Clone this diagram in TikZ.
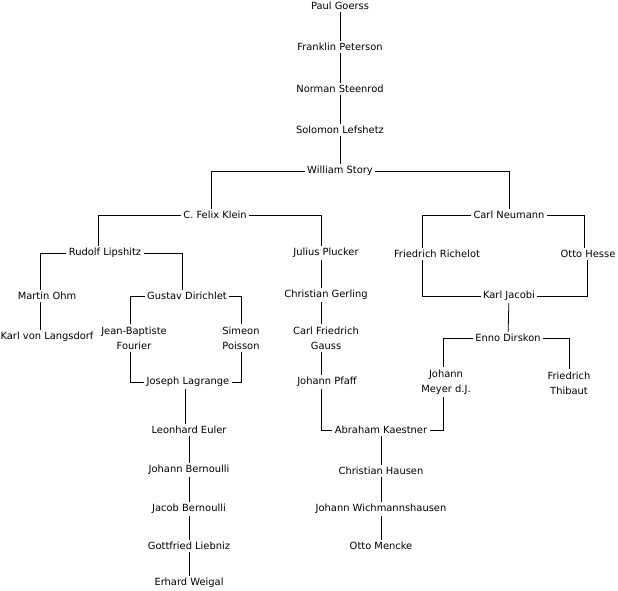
\documentclass[tikz,border=0pt]{standalone}
\usepackage{fontspec}
\setmainfont{DejaVu Sans}
\begin{document}
\begin{tikzpicture}[x=1pt,y=-1pt,
  p/.style={inner sep=2pt,align=center,font=\fontsize{9.9}{15}\selectfont,fill=white},
  every path/.style={line width=0.8pt}]
\useasboundingbox[fill=white] (0,0) rectangle (618,590);
\node[p] (goerss) at (340,6) {Paul Goerss};
\node[p] (peterson) at (340,47) {Franklin Peterson};
\node[p] (steenrod) at (340,89) {Norman Steenrod};
\node[p] (lefshetz) at (340,130) {Solomon Lefshetz};
\node[p] (story) at (340,171) {William Story};
\node[p] (klein) at (215,215) {C. Felix Klein};
\node[p] (neumann) at (509,215) {Carl Neumann};
\node[p] (lipshitz) at (105,253) {Rudolf Lipshitz};
\node[p] (plucker) at (326,253) {Julius Plucker};
\node[p] (ohm) at (47,296) {Martin Ohm};
\node[p] (langsdorf) at (47,337) {Karl von Langsdorf};
\node[p] (dirichlet) at (187,296) {Gustav Dirichlet};
\node[p] (fourier) at (134,338) {Jean-Baptiste\\Fourier};
\node[p] (poisson) at (241,338) {Simeon\\Poisson};
\node[p] (lagrange) at (188,382) {Joseph Lagrange};
\node[p] (euler) at (189,430) {Leonhard Euler};
\node[p] (jbern) at (189,470) {Johann Bernoulli};
\node[p] (jacob) at (189,509) {Jacob Bernoulli};
\node[p] (liebniz) at (189,546) {Gottfried Liebniz};
\node[p] (weigal) at (189,583) {Erhard Weigal};
\node[p] (gerling) at (326,295) {Christian Gerling};
\node[p] (gauss) at (326,338) {Carl Friedrich\\Gauss};
\node[p] (pfaff) at (327,382) {Johann Pfaff};
\node[p] (kaestner) at (381,430) {Abraham Kaestner};
\node[p] (hausen) at (381,471) {Christian Hausen};
\node[p] (wich) at (381,509) {Johann Wichmannshausen};
\node[p] (mencke) at (381,546) {Otto Mencke};
\node[p] (richelot) at (437,254) {Friedrich Richelot};
\node[p] (hesse) at (588,254) {Otto Hesse};
\node[p] (jacobi) at (509,296) {Karl Jacobi};
\node[p] (dirskon) at (508,338) {Enno Dirskon};
\node[p] (meyer) at (446,382) {Johann\\Meyer d.J.};
\node[p] (thibaut) at (569,383) {Friedrich\\Thibaut};
\draw (goerss) -- (peterson) -- (steenrod) -- (lefshetz) -- (story);
\draw (story.west) -| ([xshift=-4pt]klein.north);
\draw (story.east) -| (neumann.north);
\draw (klein.west) -| ([xshift=-7pt]lipshitz.north);
\draw (klein.east) -| ([xshift=-5pt]plucker.north);
\draw (lipshitz.west) -| ([xshift=-7pt]ohm.north);
\draw ([xshift=-7pt]ohm.south) -- ([xshift=-7pt]langsdorf.north);
\draw (lipshitz.east) -| ([xshift=-5pt]dirichlet.north);
\draw (dirichlet.west) -| ([xshift=-4pt]fourier.north);
\draw (dirichlet.east) -| (poisson.north);
\draw ([xshift=-4pt]fourier.south) |- (lagrange.west);
\draw (poisson.south) |- (lagrange.east);
\draw ([xshift=-3pt]lagrange.south) -- ([xshift=-4pt]euler.north);
\draw (euler) -- (jbern) -- (jacob) -- (liebniz) -- (weigal);
\draw ([xshift=-5pt]plucker.south) -- ([xshift=-5pt]gerling.north);
\draw ([xshift=-5pt]gerling.south) -- ([xshift=-5pt]gauss.north);
\draw ([xshift=-5pt]gauss.south) -- ([xshift=-6pt]pfaff.north);
\draw ([xshift=-6pt]pfaff.south) |- (kaestner.west);
\draw (kaestner) -- (hausen) -- (wich) -- (mencke);
\draw (neumann.west) -| ([xshift=-15pt]richelot.north);
\draw (neumann.east) -| ([xshift=-4pt]hesse.north);
\draw ([xshift=-15pt]richelot.south) |- (jacobi.west);
\draw ([xshift=-1pt]hesse.south) |- (jacobi.east);
\draw (jacobi) -- (dirskon);
\draw (dirskon.west) -| ([xshift=-3pt]meyer.north);
\draw (dirskon.east) -| (thibaut.north);
\draw ([xshift=-3pt]meyer.south) |- (kaestner.east);
\end{tikzpicture}
\end{document}
